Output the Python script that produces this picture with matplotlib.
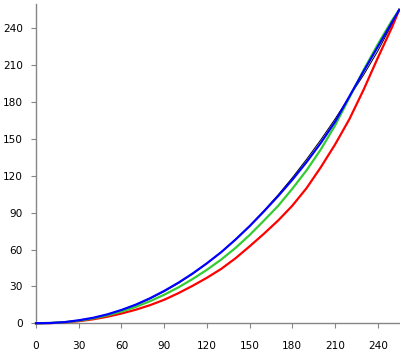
import matplotlib
matplotlib.use("Agg")
import matplotlib.pyplot as plt

# input level (0-255)
x_vals = [0, 10, 20, 30, 40, 50, 60, 70, 80, 90, 100, 110, 120, 130,
          140, 150, 160, 170, 180, 190, 200, 210, 220, 230, 240, 250, 255]

# output level per curve
black = [0, 0.2, 0.9, 2.3, 4.3, 7.1, 10.6, 14.8, 19.9, 25.8, 32.5, 40.1, 48.6, 57.9,
         68.2, 79.3, 91.5, 104.5, 118.5, 133.5, 149.4, 166.3, 184.3, 202.0, 221.5, 243.5, 255]
blue = [0, 0.2, 0.9, 2.4, 4.4, 7.2, 10.8, 15.1, 20.3, 26.3, 33.0, 40.5, 48.8, 57.8,
        68.0, 79.0, 91.0, 103.5, 116.8, 131.2, 146.8, 164.0, 184.5, 205.0, 225.0, 245.0, 255]
green = [0, 0.2, 0.8, 2.1, 3.9, 6.4, 9.5, 13.3, 17.9, 23.2, 29.2, 36.0, 43.5, 51.8,
         61.2, 71.8, 83.5, 95.5, 109.5, 124.5, 141.5, 161.0, 183.5, 206.0, 227.0, 246.5, 255]
red = [0, 0.1, 0.7, 1.7, 3.2, 5.3, 7.9, 11.0, 14.7, 19.1, 24.5, 30.5, 37.0, 44.2,
       52.8, 62.6, 72.8, 83.6, 95.7, 110.0, 127.0, 145.5, 166.0, 190.0, 216.0, 241.0, 255]

x_ticks = [0, 30, 60, 90, 120, 150, 180, 210, 240]
y_ticks = [0, 30, 60, 90, 120, 150, 180, 210, 240]

plt.rcParams['font.family'] = ['DejaVu Sans']

fig = plt.figure(figsize=(4.0, 3.56), dpi=100)
ax = fig.add_axes([0.09, 0.092, 0.908, 0.8976])

ax.plot(x_vals, black, color='black', lw=0.7, zorder=2, clip_on=False)
ax.plot(x_vals, red, color='#ff0000', lw=1.6, zorder=3, clip_on=False)
ax.plot(x_vals, green, color='#33cc33', lw=1.6, zorder=4, clip_on=False)
ax.plot(x_vals, blue, color='#0000ff', lw=1.6, zorder=5, clip_on=False)

ax.set_xlim(0, 255)
ax.set_ylim(0, 260)
ax.set_xticks(x_ticks)
ax.set_yticks(y_ticks)

for side in ['top', 'right']:
    ax.spines[side].set_visible(False)
for side in ['left', 'bottom']:
    ax.spines[side].set_color('#868686')
    ax.spines[side].set_linewidth(1.0)

ax.tick_params(axis='both', direction='out', length=3.5, width=0.8,
               color='#868686', labelsize=7.6, labelcolor='black')
ax.tick_params(axis='x', pad=9)
ax.tick_params(axis='y', pad=6)

fig.savefig('out.png', dpi=100)
